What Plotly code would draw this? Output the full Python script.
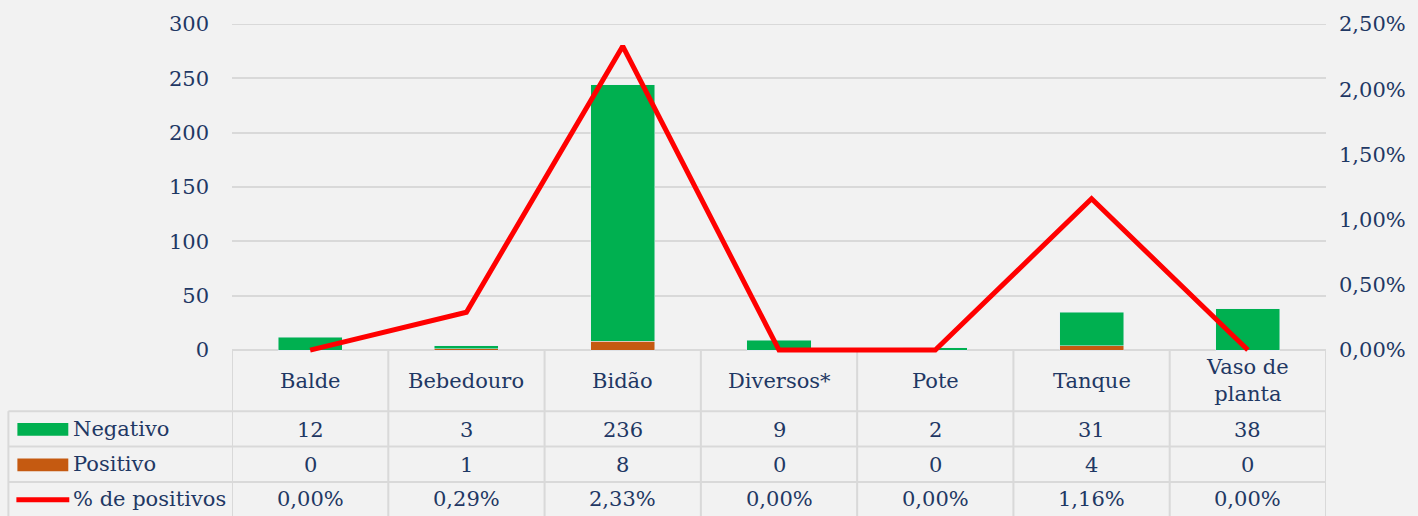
import plotly.graph_objects as go

categories = ["Balde", "Bebedouro", "Bidão", "Diversos*", "Pote", "Tanque", "Vaso de planta"]
category_labels = ["Balde", "Bebedouro", "Bidão", "Diversos*", "Pote", "Tanque", "Vaso de<br>planta"]
negativo = [12, 3, 236, 9, 2, 31, 38]
positivo = [0, 1, 8, 0, 0, 4, 0]
pct_positivos = [0.0000, 0.0029, 0.0233, 0.0000, 0.0000, 0.0116, 0.0000]
left_ticks = [0, 50, 100, 150, 200, 250, 300]
right_ticks = [0, 0.005, 0.01, 0.015, 0.02, 0.025]

W, H = 1418, 516
PL, PR, PT, PB = 232, 1328, 19, 350
EXT = 4  # extra pixels below zero so the red line is not clipped
FONT = "Georgia, 'DejaVu Serif', serif"
TXT = "#1F3864"
GREEN = "#00B050"
ORANGE = "#C55A11"
RED = "#FF0000"
GRID = "#D9D9D9"
BG = "#F2F2F2"

PBE = PB + EXT


def px2x(px):
    return (px - PL) / (PR - PL)


def py2y(py):
    return (PBE - py) / (PBE - PT)


fig = go.Figure()
fig.add_trace(go.Bar(x=categories, y=positivo, name="Positivo", marker_color=ORANGE, width=0.41))
fig.add_trace(go.Bar(x=categories, y=negativo, name="Negativo", marker_color=GREEN, width=0.41))
fig.add_trace(go.Scatter(x=categories, y=pct_positivos, name="% de positivos", mode="lines",
                         line=dict(color=RED, width=5), yaxis="y2"))

shapes = []
annotations = []
line_style = dict(color=GRID, width=2)

# gridline at the top of the value axis
shapes.append(dict(type="line", xref="paper", yref="y", x0=0, x1=1, y0=left_ticks[-1], y1=left_ticks[-1],
                   line=line_style, layer="below"))

shapes.append(dict(type="line", xref="paper", yref="paper", x0=px2x(PL), x1=px2x(PR),
                   y0=py2y(350), y1=py2y(350), line=line_style, layer="below"))
for py in (412, 448, 484):
    shapes.append(dict(type="line", xref="paper", yref="paper", x0=px2x(8), x1=px2x(PR),
                       y0=py2y(py), y1=py2y(py), line=line_style, layer="below"))
for i in range(len(categories) + 1):
    shapes.append(dict(type="line", xref="x", yref="paper", x0=i - 0.5, x1=i - 0.5,
                       y0=py2y(350), y1=py2y(520), line=line_style, layer="below"))
shapes.append(dict(type="line", xref="paper", yref="paper", x0=px2x(8), x1=px2x(8),
                   y0=py2y(412), y1=py2y(520), line=line_style, layer="below"))

# legend keys
shapes.append(dict(type="rect", xref="paper", yref="paper", x0=px2x(17), x1=px2x(68),
                   y0=py2y(424), y1=py2y(437), fillcolor=GREEN, line=dict(width=0)))
shapes.append(dict(type="rect", xref="paper", yref="paper", x0=px2x(17), x1=px2x(68),
                   y0=py2y(460), y1=py2y(473), fillcolor=ORANGE, line=dict(width=0)))
shapes.append(dict(type="line", xref="paper", yref="paper", x0=px2x(16), x1=px2x(69),
                   y0=py2y(502), y1=py2y(502), line=dict(color=RED, width=5)))

font = dict(family=FONT, size=21, color=TXT)
row_names = [("Negativo", 430), ("Positivo", 466), ("% de positivos", 501)]
for name, py in row_names:
    annotations.append(dict(text=name, xref="paper", yref="paper", x=px2x(71), y=py2y(py),
                            xanchor="left", yanchor="middle", showarrow=False, font=font))

for i, cat in enumerate(categories):
    annotations.append(dict(text=category_labels[i], xref="x", yref="paper", x=cat, y=py2y(381),
                            xanchor="center", yanchor="middle", showarrow=False, font=font))
    annotations.append(dict(text=str(negativo[i]), xref="x", yref="paper", x=cat, y=py2y(431),
                            xanchor="center", yanchor="middle", showarrow=False, font=font))
    annotations.append(dict(text=str(positivo[i]), xref="x", yref="paper", x=cat, y=py2y(467),
                            xanchor="center", yanchor="middle", showarrow=False, font=font))
    annotations.append(dict(text=f"{pct_positivos[i] * 100:.2f}%".replace(".", ","), xref="x", yref="paper",
                            x=cat, y=py2y(501), xanchor="center", yanchor="middle", showarrow=False, font=font))

y1_low = -300 * EXT / (PB - PT)
y2_low = -0.025 * EXT / (PB - PT)

fig.update_layout(
    width=W, height=H,
    margin=dict(l=PL, r=W - PR, t=PT, b=H - PBE, pad=0),
    paper_bgcolor=BG, plot_bgcolor=BG,
    barmode="stack", showlegend=False,
    separators=",.",
    font=font,
    xaxis=dict(range=[-0.5, 6.5], showticklabels=False, showgrid=False, zeroline=False,
               showline=False, ticks=""),
    yaxis=dict(range=[y1_low, 300], tickvals=left_ticks, showgrid=True,
               gridcolor=GRID, gridwidth=2, zeroline=False, showline=False, ticks="",
               ticklabelstandoff=22, tickfont=font),
    yaxis2=dict(range=[y2_low, 0.025], tickvals=right_ticks, tickformat=".2%",
                overlaying="y", side="right", showgrid=False, zeroline=False, showline=False,
                ticks="", ticklabelstandoff=12, tickfont=font),
    shapes=shapes,
    annotations=annotations,
)

fig.write_html("out.html", config={"displayModeBar": False},
               post_script="document.body.style.margin='0';document.body.style.background='#F2F2F2';")
